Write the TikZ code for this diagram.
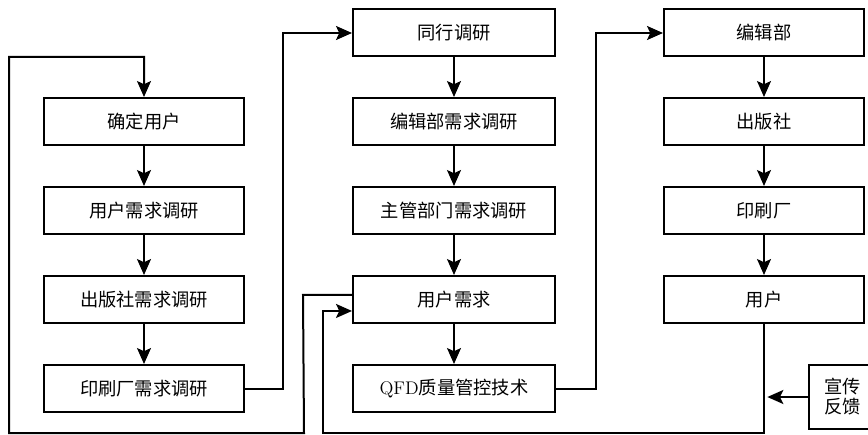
\documentclass[tikz,border=0pt]{standalone}
\usepackage{fontspec}
\newfontfamily\cjk{Noto Sans CJK SC}
\usetikzlibrary{arrows.meta,calc}
\tikzset{
  box/.style={draw, line width=1.5pt, minimum width=150pt, minimum height=35.25pt, inner sep=0pt,
    font=\cjk\fontsize{13.7pt}{16pt}\selectfont},
  midbox/.style={box, minimum width=151.5pt},
  conn/.style={line width=1.5pt},
  arr/.style={conn, -{Stealth[length=12pt, width=10.5pt, inset=2.5pt]}},
}
\begin{document}
\begin{tikzpicture}[x=0.75pt, y=-0.75pt]
\useasboundingbox (0,0) rectangle (868,435);
\clip (0,0) rectangle (868,435);
% left column
\node[box] (qd) at (144,121.5) {确定用户};
\node[box] (ys2) at (144,210.5) {用户需求调研};
\node[box] (ys3) at (144,299.5) {出版社需求调研};
\node[box] (ys4) at (144,388.5) {印刷厂需求调研};
% middle column
\node[midbox] (tx) at (454,33) {同行调研};
\node[midbox] (bj) at (454,121.5) {编辑部需求调研};
\node[midbox] (zg) at (454,210.5) {主管部门需求调研};
\node[midbox] (yhxq) at (454,299.5) {用户需求};
\node[midbox] (qfd) at (454,388.5) {{\rmfamily QFD}质量管控技术};
% right column
\node[box] (bjb) at (764,33) {编辑部};
\node[box] (cbs) at (764,121.5) {出版社};
\node[box] (ysc) at (764,210.5) {印刷厂};
\node[box] (yh) at (764,299.5) {用户};
% feedback
\node[box, minimum width=50.25pt, minimum height=48pt, align=center,
  font=\cjk\fontsize{13.7pt}{15pt}\selectfont] (xc) at (842.5,397) {宣传\\反馈};
% vertical arrows
\draw[arr] (qd) -- (ys2);
\draw[arr] (ys2) -- (ys3);
\draw[arr] (ys3) -- (ys4);
\draw[arr] (tx) -- (bj);
\draw[arr] (bj) -- (zg);
\draw[arr] (zg) -- (yhxq);
\draw[arr] (yhxq) -- (qfd);
\draw[arr] (bjb) -- (cbs);
\draw[arr] (cbs) -- (ysc);
\draw[arr] (ysc) -- (yh);
% loops
\coordinate (la) at (304,433);
\coordinate (lb) at (9,57);
\draw[arr] ([yshift=3.4pt]yhxq.west) -- ++(-49,0) -- (la) -- (9,433) -- (lb) -| (qd.north);
\draw[arr] (ys4.east) -- (283,388.5) |- (tx.west);
\draw[arr] (qfd.east) -- (596,388.5) |- (bjb.west);
\draw[arr] (yh.south) |- (323,433) |- ([yshift=-8.6pt]yhxq.west);
\draw[arr] (xc.west) -- ([xshift=2.5pt]yh.south |- xc.west);
\end{tikzpicture}
\end{document}
